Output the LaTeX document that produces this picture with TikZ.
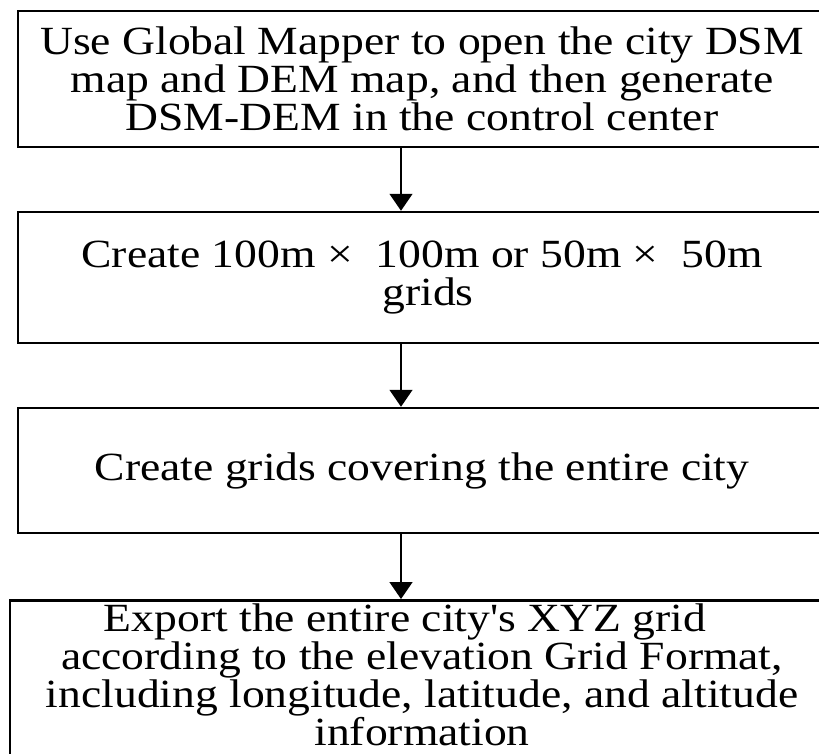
\documentclass[tikz,border=0pt]{standalone}
\usepackage{fontspec}
\setmainfont[FakeStretch=1.14, Ligatures=TeXOff]{Liberation Serif}
\usetikzlibrary{arrows.meta}
\tikzset{
  stepbox/.style={draw=black, line width=2.5pt, rectangle, align=center,
    inner sep=0pt, font=\fontsize{40}{38}\selectfont},
  flow/.style={line width=1.5pt, -{Triangle[width=23pt,length=17pt]}}
}
\begin{document}
\begin{tikzpicture}[x=1pt,y=1pt]
  \useasboundingbox (0,0) rectangle (819,-753);
  \coordinate (ax) at (401,0);
  \node[stepbox, minimum width=808pt, minimum height=136pt] (b1) at (422,-79)
    {Use Global Mapper to open the city DSM\\map and DEM map, and then generate\\DSM-DEM in the control center};
  \node[stepbox, minimum width=808pt, minimum height=131pt] (b2) at (422,-277.5)
    {Create 100m × \ 100m or 50m × \ 50m\\\hspace*{12pt}grids};
  \node[stepbox, minimum width=808pt, minimum height=125pt] (b3) at (422,-470.5)
    {Create grids covering the entire city};
  \node[stepbox, minimum width=824pt, minimum height=200pt, anchor=north,
    text depth=0pt, inner ysep=0pt] (b4) at (422,-599)
    {\rule{0pt}{29pt}Export the entire city's XYZ grid\hspace*{34pt}\\according to the elevation Grid Format,\\including longitude, latitude, and altitude\\information\\[14pt]};
  \draw[flow] (b1.south -| ax) -- (b2.north -| ax);
  \draw[flow] (b2.south -| ax) -- (b3.north -| ax);
  \draw[flow] (b3.south -| ax) -- (b4.north -| ax);
\end{tikzpicture}
\end{document}
